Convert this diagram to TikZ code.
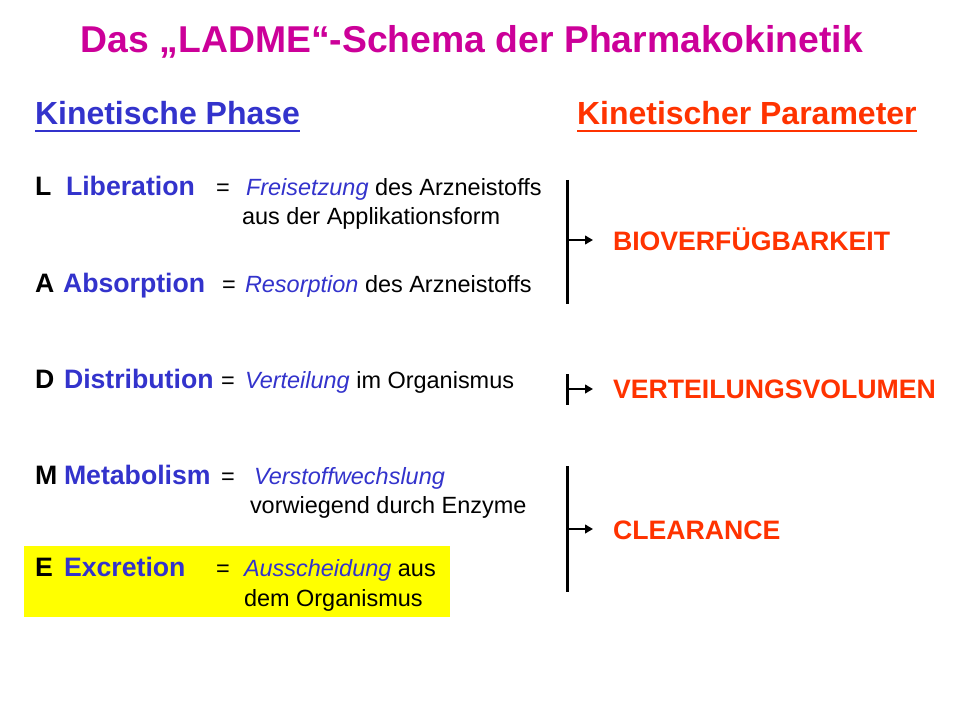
\documentclass[tikz,border=0pt]{standalone}
\usepackage{fontspec}
\setmainfont{Liberation Sans}
\usetikzlibrary{arrows.meta}
\definecolor{titlemag}{HTML}{CC0099}
\definecolor{phblue}{HTML}{3333CC}
\definecolor{parred}{HTML}{FF3300}
\definecolor{hlyellow}{HTML}{FFFF00}
\begin{document}
\begin{tikzpicture}[x=0.75pt,y=-0.75pt,
  txt/.style={anchor=base west, inner sep=0pt, outer sep=0pt},
  letter/.style={txt, font=\fontsize{20}{24}\selectfont\bfseries},
  phase/.style={letter, text=phblue},
  deftext/.style={txt, font=\fontsize{17.6}{21}\selectfont},
  head/.style={txt, font=\fontsize{24}{29}\selectfont\bfseries},
  param/.style={txt, font=\fontsize{20}{24}\selectfont\bfseries, text=parred},
  bracket/.style={line width=2.25pt},
  arr/.style={line width=1.8pt, -{Triangle[length=6pt,width=6.5pt]}}]
\useasboundingbox (0,0) rectangle (960,720);
\fill[white] (0,0) rectangle (960,720);
% highlight
\fill[hlyellow] (24,546) rectangle (450,617);
% title
\node[anchor=base, inner sep=0pt, font=\fontsize{28}{34}\selectfont\bfseries, text=titlemag] (title) at (472,53) {Das „LADME“-Schema der Pharmakokinetik};
% headings
\node[head, text=phblue] (hphase) at (35,125) {Kinetische Phase};
\node[head, text=parred] (hparam) at (577,125) {Kinetischer Parameter};
\draw[phblue, line width=1.5pt] ([yshift=-4.5pt]hphase.base west) -- ([yshift=-4.5pt]hphase.base east);
\draw[parred, line width=1.5pt] ([yshift=-4.5pt]hparam.base west) -- ([yshift=-4.5pt]hparam.base east);
% L
\node[letter] (lL) at (35,196) {L};
\node[phase] (pL) at (66,196) {Liberation};
\node[deftext] (eL) at (216,196) {=};
\node[deftext] (dL) at (246,196) {\textcolor{phblue}{\itshape Freisetzung} des Arzneistoffs};
\node[deftext] (dL2) at (242,225) {aus der Applikationsform};
% A
\node[letter] (lA) at (35,292) {A};
\node[phase] (pA) at (63,292) {Absorption};
\node[deftext] (eA) at (222,292) {=};
\node[deftext] (dA) at (245,292) {\textcolor{phblue}{\itshape Resorption} des Arzneistoffs};
% D
\node[letter] (lD) at (35,388) {D};
\node[phase] (pD) at (64,388) {Distribution};
\node[deftext] (eD) at (221,388) {=};
\node[deftext] (dD) at (245,388) {\textcolor{phblue}{\itshape Verteilung} im Organismus};
% M
\node[letter] (lM) at (35,484) {M};
\node[phase] (pM) at (64,484) {Metabolism};
\node[deftext] (eM) at (221,484) {=};
\node[deftext] (dM) at (254,484) {\textcolor{phblue}{\itshape Verstoffwechslung}};
\node[deftext] (dM2) at (250,513) {vorwiegend durch Enzyme};
% E
\node[letter] (lE) at (35,576) {E};
\node[phase] (pE) at (64,576) {Excretion};
\node[deftext] (eE) at (216,576) {=};
\node[deftext] (dE) at (244,576) {\textcolor{phblue}{\itshape Ausscheidung} aus};
\node[deftext] (dE2) at (244,606) {dem Organismus};
% parameters
\node[param] (bio) at (613,251) {BIOVERFÜGBARKEIT};
\node[param] (vol) at (613,398) {VERTEILUNGSVOLUMEN};
\node[param] (cl) at (613,539) {CLEARANCE};
% brackets
\coordinate (b1t) at (567,180); \coordinate (b1b) at (567,304); \coordinate (b1m) at (567,240); \coordinate (b1e) at (593,240);
\coordinate (b2t) at (567,374); \coordinate (b2b) at (567,405); \coordinate (b2m) at (567,389); \coordinate (b2e) at (593,389);
\coordinate (b3t) at (567,466); \coordinate (b3b) at (567,592); \coordinate (b3m) at (567,529); \coordinate (b3e) at (593,529);
\draw[bracket] (b1t) -- (b1b);
\draw[bracket] (b2t) -- (b2b);
\draw[bracket] (b3t) -- (b3b);
\draw[arr] (b1m) -- (b1e);
\draw[arr] (b2m) -- (b2e);
\draw[arr] (b3m) -- (b3e);
\end{tikzpicture}
\end{document}
